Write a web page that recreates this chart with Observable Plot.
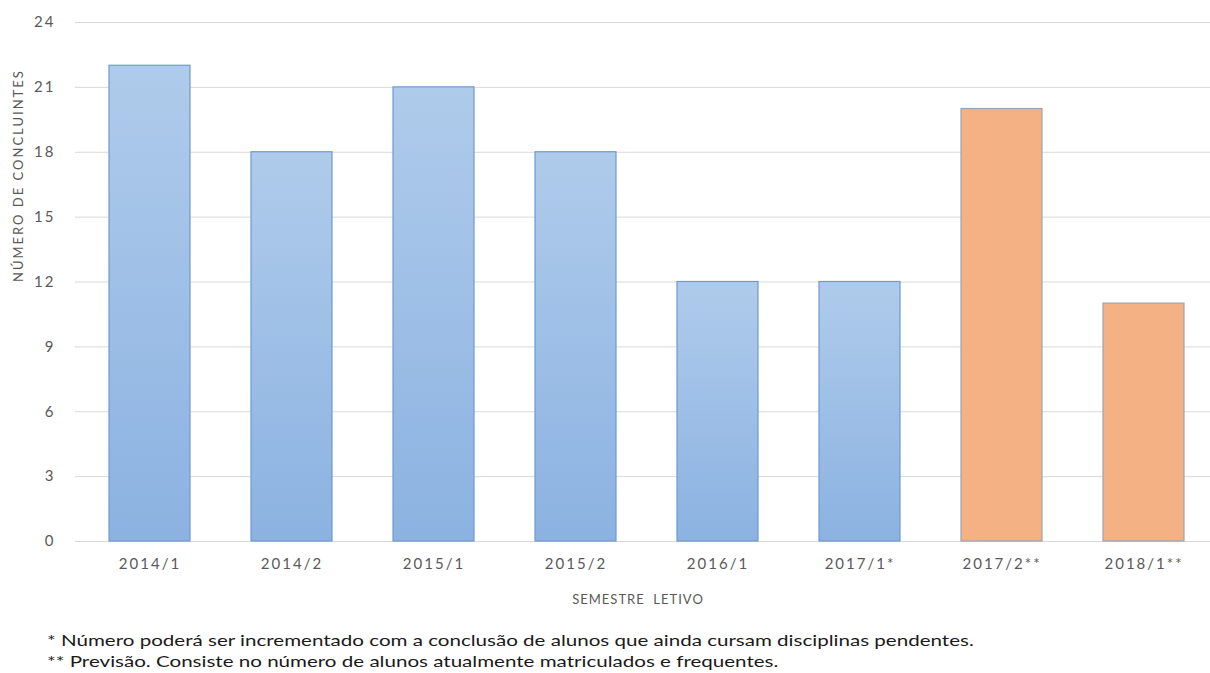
<!DOCTYPE html>
<html>
<head>
<meta charset="utf-8">
<script src="https://cdn.jsdelivr.net/npm/d3@7"></script>
<script src="https://cdn.jsdelivr.net/npm/@observablehq/plot@0.6"></script>
<style>
  body { margin: 0; background: #fff; font-family: Lato, "Open Sans", sans-serif; }
  #chart { position: relative; width: 1210px; height: 673px; overflow: hidden; }
  .note { position: absolute; left: 47px; font-size: 15px; color: #1a1a1a; white-space: nowrap; transform: scaleX(1.37); transform-origin: left center; }
</style>
</head>
<body>
<div id="chart"></div>
<script>
const semesters = ["2014/1", "2014/2", "2015/1", "2015/2", "2016/1", "2017/1*", "2017/2**", "2018/1**"];
const concluintes = [22, 18, 21, 18, 12, 12, 20, 11];
const tipo = ["real", "real", "real", "real", "real", "real", "previsao", "previsao"];
const yTicks = [0, 3, 6, 9, 12, 15, 18, 21, 24];
const notes = [
  "* Número poderá ser incrementado com a conclusão de alunos que ainda cursam disciplinas  pendentes.",
  "** Previsão. Consiste no número de alunos atualmente matriculados e frequentes."
];

const data = semesters.map((s, i) => ({ semestre: s, valor: concluintes[i], tipo: tipo[i] }));

const plot = Plot.plot({
  width: 1210,
  height: 620,
  marginTop: 22,
  marginBottom: 79,
  marginLeft: 75,
  marginRight: -8,
  style: { fontFamily: "Lato, 'Open Sans', sans-serif", fontSize: "15px", color: "#595959", overflow: "visible", letterSpacing: "2px" },
  x: { domain: semesters, paddingInner: 0.43, paddingOuter: 0.215, label: null },
  y: { domain: [0, 24], label: null },
  marks: [
    Plot.gridY(yTicks, { stroke: "#d9d9d9", strokeOpacity: 1, strokeWidth: 1 }),
    Plot.axisY(yTicks, { tickSize: 0, tickPadding: 20, fontSize: 15, label: null }),
    Plot.barY(data, {
      x: "semestre", y: "valor",
      fill: d => d.tipo === "real" ? "url(#blueGrad)" : "#f4b183",
      stroke: d => d.tipo === "real" ? "#6f9ad0" : "#9aa4b4",
      strokeWidth: 1.2
    }),
    Plot.axisX({ tickSize: 0, tickPadding: 17, fontSize: 15, label: "SEMESTRE  LETIVO", labelAnchor: "center", labelArrow: "none", labelOffset: 62 }),
    Plot.text(["NÚMERO DE CONCLUINTES"], { frameAnchor: "left", dx: -57, rotate: -90, fontSize: 13, fill: "#595959" })
  ]
});

const svg = d3.select(plot);
const defs = svg.insert("defs", ":first-child");
const g = defs.append("linearGradient").attr("id", "blueGrad").attr("x1", 0).attr("y1", 0).attr("x2", 0).attr("y2", 1);
g.append("stop").attr("offset", "0%").attr("stop-color", "#afcbeb");
g.append("stop").attr("offset", "100%").attr("stop-color", "#8bb2e1");
svg.selectAll('[aria-label="x-axis label"] text, [aria-label="x-axis label"]')
  .style("letter-spacing", "1px").style("font-size", "13px").attr("dx", null);
svg.select('[aria-label="x-axis label"]').attr("transform", function () {
  const t = this.getAttribute("transform") || "";
  return t + " translate(-9,0)";
});

const chart = document.getElementById("chart");
chart.appendChild(plot);
notes.forEach((t, i) => {
  const d = document.createElement("div");
  d.className = "note";
  d.style.top = (631 + i * 21) + "px";
  d.textContent = t;
  chart.appendChild(d);
});
</script>
</body>
</html>
